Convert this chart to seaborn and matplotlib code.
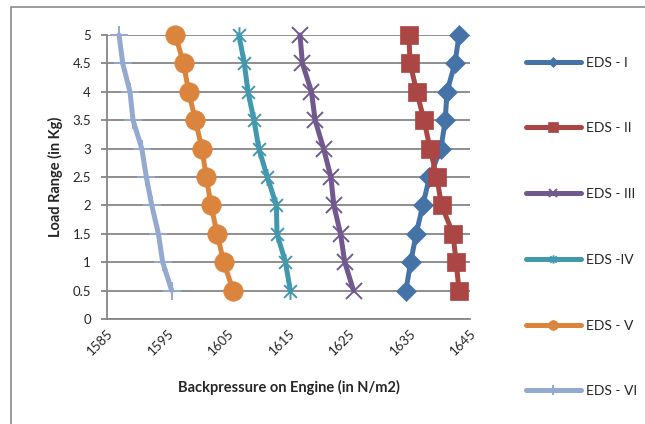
import numpy as np
import pandas as pd
import matplotlib
matplotlib.use("Agg")
import matplotlib.pyplot as plt
from matplotlib.path import Path
from matplotlib.patches import Rectangle
import seaborn as sns

# ---- data ----
load = [0.5, 1, 1.5, 2, 2.5, 3, 3.5, 4, 4.5, 5]
eds_1 = [1634.4, 1635.2, 1636.1, 1637.2, 1638.3, 1640.2, 1640.9, 1641.2, 1642.5, 1643.2]
eds_2 = [1643.2, 1642.7, 1642.2, 1640.3, 1639.5, 1638.4, 1637.4, 1636.2, 1635.1, 1634.9]
eds_3 = [1625.75, 1624.3, 1623.6, 1622.5, 1622.0, 1620.8, 1619.4, 1618.8, 1617.3, 1616.9]
eds_4 = [1615.3, 1614.5, 1613.1, 1613.0, 1611.5, 1610.1, 1609.3, 1608.3, 1607.7, 1606.8]
eds_5 = [1605.85, 1604.3, 1603.2, 1602.2, 1601.4, 1600.7, 1599.6, 1598.5, 1597.65, 1596.3]
eds_6 = [1595.7, 1594.2, 1593.5, 1592.4, 1591.5, 1590.75, 1589.3, 1588.8, 1587.6, 1587.0]
series_names = ["EDS - I", "EDS - II", "EDS - III", "EDS -IV", "EDS - V", "EDS - VI"]
x_ticks = [1585, 1595, 1605, 1615, 1625, 1635, 1645]
y_ticks = [0, 0.5, 1, 1.5, 2, 2.5, 3, 3.5, 4, 4.5, 5]

sns.set_theme(style="white")
plt.rcParams["font.family"] = ["Lato", "DejaVu Sans"]

colors = ["#4572A7", "#AA4643", "#71588F", "#4198AF", "#DB843D", "#93A9CF"]

star = Path([(-1, -1), (1, 1), (-1, 1), (1, -1), (0, -1.3), (0, 1.3)],
            [Path.MOVETO, Path.LINETO, Path.MOVETO, Path.LINETO, Path.MOVETO, Path.LINETO])
markers = ["D", "s", "x", star, "o", "+"]
msizes = [10, 13.5, 12, 12, 14, 13]
medge = [0.5, 0.5, 1.4, 1.4, 0.5, 1.4]

fig = plt.figure(figsize=(6.45, 4.24), dpi=100)
fig.patches.append(Rectangle((11 / 645, -0.05), 1.1, 1 - 7 / 424 + 0.05, transform=fig.transFigure,
                             fill=False, edgecolor="#8c8c8c", linewidth=1.2))
ax = fig.add_axes([107 / 645, 1 - 319 / 424, (470 - 107) / 645, (319 - 35) / 424])

all_series = [eds_1, eds_2, eds_3, eds_4, eds_5, eds_6]
for vals, name, c, m, ms, me in zip(all_series, series_names, colors, markers, msizes, medge):
    df = pd.DataFrame({"pressure": vals, "load": load})
    sns.lineplot(data=df, x="pressure", y="load", sort=False, estimator=None, ax=ax,
                 color=c, linewidth=3.6, marker=m, markersize=ms,
                 markeredgecolor=c, markerfacecolor=c, markeredgewidth=me,
                 label=name, clip_on=False, zorder=3)

ax.set_xlim(1585, 1645)
ax.set_ylim(0, 5)
ax.set_xticks(x_ticks)
ax.set_yticks(y_ticks)
ax.set_yticklabels([("%g" % v) for v in y_ticks])
ax.grid(axis="y", color="#868686", linewidth=1.3)
ax.grid(axis="x", visible=False)
ax.set_axisbelow(True)
for s in ["top", "right"]:
    ax.spines[s].set_visible(False)
for s in ["left", "bottom"]:
    ax.spines[s].set_color("#868686")
    ax.spines[s].set_linewidth(1.3)
ax.tick_params(axis="y", length=4.5, width=1.3, color="#868686", labelsize=9.5, pad=7, left=True)
ax.tick_params(axis="x", length=0, labelsize=9.5, pad=6)
plt.setp(ax.get_xticklabels(), rotation=45, ha="right", rotation_mode="anchor")
ax.set_xlabel("Backpressure on Engine (in N/m2)", fontsize=10.5, fontweight="bold", labelpad=16)
ax.set_ylabel("Load Range (in Kg)", fontsize=10.5, fontweight="bold", labelpad=7)

ax.legend(loc="upper left", bbox_to_anchor=(520 / 645, 1 - 51 / 424), bbox_transform=fig.transFigure,
          frameon=False, fontsize=10, labelspacing=3.87, handlelength=3.96, handletextpad=0.36,
          markerscale=0.5, borderaxespad=0)

fig.savefig("out.png", dpi=100)
